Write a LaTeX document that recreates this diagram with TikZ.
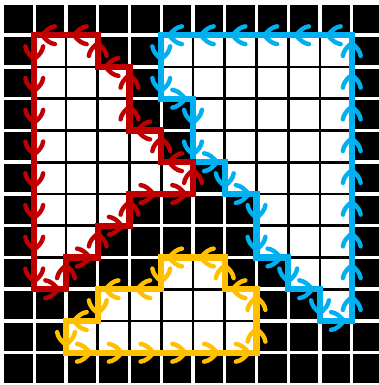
\documentclass[tikz,border=0pt]{standalone}
\usetikzlibrary{decorations.markings}
\definecolor{redloop}{HTML}{C00000}
\definecolor{blueloop}{HTML}{00B0F0}
\definecolor{yellowloop}{HTML}{FFC000}
\newcommand{\redpath}{(1,-1) -- (1,-9) -- (2,-9) -- (2,-8) -- (3,-8) -- (3,-7) -- (4,-7) -- (4,-6) -- (6,-6) -- (6,-5) -- (5,-5) -- (5,-4) -- (4,-4) -- (4,-2) -- (3,-2) -- (3,-1) -- cycle}
\newcommand{\bluepath}{(5,-1) -- (5,-3) -- (6,-3) -- (6,-5) -- (7,-5) -- (7,-6) -- (8,-6) -- (8,-8) -- (9,-8) -- (9,-9) -- (10,-9) -- (10,-10) -- (11,-10) -- (11,-1) -- cycle}
\newcommand{\yellowpath}{(2,-11) -- (8,-11) -- (8,-9) -- (7,-9) -- (7,-8) -- (5,-8) -- (5,-9) -- (3,-9) -- (3,-10) -- (2,-10) -- cycle}
\tikzset{
  loopline/.style={draw=#1, line width=0.19cm, line join=miter,
    postaction={decorate, decoration={markings,
      mark=between positions 0.75cm and -0.2cm step 1cm with {
        \draw[#1, line width=0.14cm, line cap=round, line join=round]
          (-0.4,0.28) .. controls (-0.25,0.26) and (-0.12,0.16) .. (0,0)
          .. controls (-0.12,-0.16) and (-0.25,-0.26) .. (-0.4,-0.28);}}}},
  whitegrid/.style={white, line width=0.11cm},
  blackgrid/.style={black, line width=0.09cm}
}
\begin{document}
\begin{tikzpicture}
\useasboundingbox[fill=white] (-0.0787,0.110) rectangle (11.858,-12.016);
\begin{scope}
\clip (-0.0787,0.110) rectangle (11.858,-12.016);
\fill[black] (0,0) rectangle (12,-12);
\draw[whitegrid] (0,0) grid (12,-12);
\fill[white] \redpath;
\fill[white] \bluepath;
\fill[white] \yellowpath;
\begin{scope}
\clip \redpath;
\draw[blackgrid] (0,0) grid (12,-12);
\end{scope}
\begin{scope}
\clip \bluepath;
\draw[blackgrid] (0,0) grid (12,-12);
\end{scope}
\begin{scope}
\clip \yellowpath;
\draw[blackgrid] (0,0) grid (12,-12);
\end{scope}
\path[loopline=blueloop] \bluepath;
\path[loopline=redloop] \redpath;
\path[loopline=yellowloop] \yellowpath;
\end{scope}
\end{tikzpicture}
\end{document}
